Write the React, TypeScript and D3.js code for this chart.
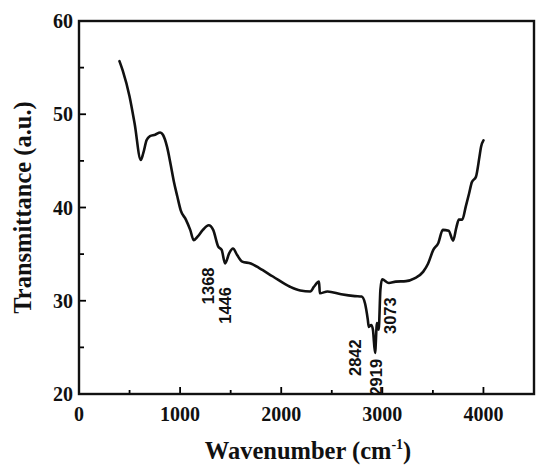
import React from "react";
import * as d3 from "d3";

// FTIR spectrum: wavenumber (cm^-1) vs transmittance (a.u.)
const wavenumbers = [
  400, 432, 500, 550, 611, 635, 668, 702, 753, 803, 830, 871, 905, 938, 972,
  1006, 1057, 1100, 1134, 1175, 1225, 1283, 1327, 1377, 1411, 1445, 1486, 1523,
  1564, 1614, 1699, 1783, 1918, 2087, 2188, 2289, 2323, 2374, 2382, 2458, 2593,
  2728, 2795, 2829, 2856, 2866, 2890, 2907, 2928, 2947, 2964, 2981, 2998, 3065,
  3133, 3234, 3318, 3403, 3453, 3504, 3554, 3598, 3656, 3700, 3733, 3757, 3791,
  3825, 3858, 3885, 3926, 3960, 3976, 4000,
];
const transmittance = [
  55.7, 54.7, 51.9, 49.0, 45.1, 45.8, 47.2, 47.65, 47.8, 48.05, 47.8, 46.5, 44.7,
  42.8, 41.2, 39.7, 38.7, 37.6, 36.5, 36.9, 37.6, 38.1, 37.6, 35.8, 35.45, 34.0,
  35.1, 35.6, 34.9, 34.2, 34.0, 33.5, 32.6, 31.5, 31.1, 31.0, 31.5, 32.05, 30.8,
  31.0, 30.7, 30.5, 30.45, 29.7, 28.0, 27.2, 27.4, 26.9, 24.4, 27.6, 26.9, 31.2,
  32.3, 31.9, 32.05, 32.1, 32.4, 33.1, 34.0, 35.45, 36.2, 37.6, 37.5, 36.45, 37.9,
  38.7, 38.7, 40.1, 41.5, 42.7, 43.3, 45.4, 46.5, 47.2,
];

// Peak annotations (label text, anchor wavenumber, anchor transmittance)
const peakLabels = ["1368", "1446", "2842", "2919", "3073"];
const peakX = [1276, 1444, 2730, 2938, 3071];
const peakY = [31.6, 29.5, 23.9, 21.8, 28.4];

const xTicks = [0, 1000, 2000, 3000, 4000];
const yTicks = [20, 30, 40, 50, 60];

const W = 536;
const H = 465;
const M = { left: 79, right: 534, top: 21, bottom: 394 };

export default function App() {
  const x = d3.scaleLinear().domain([0, 4500]).range([M.left, M.right]);
  const y = d3.scaleLinear().domain([20, 60]).range([M.bottom, M.top]);

  const pts = wavenumbers.map((w, i) => [w, transmittance[i]] as [number, number]);
  const line = d3
    .line<[number, number]>()
    .x((d) => x(d[0]))
    .y((d) => y(d[1]))
    .curve(d3.curveMonotoneX);

  const xMinor = d3.range(0, 4501, 500);
  const yMinor = d3.range(20, 61, 5);
  const serif = "'Liberation Serif', 'Times New Roman', serif";
  const sans = "'Liberation Sans', Arial, sans-serif";

  return (
    <svg
      width={W}
      height={H}
      style={{ position: "absolute", left: 0, top: 0, background: "#fff" }}
    >
      {/* ticks (inward) */}
      {xMinor.map((t) => {
        const major = t % 1000 === 0;
        return (
          <line
            key={"xt" + t}
            x1={x(t)}
            x2={x(t)}
            y1={M.bottom}
            y2={M.bottom - (major ? 7 : 4)}
            stroke="#000"
            strokeWidth={1.8}
          />
        );
      })}
      {yMinor.map((t) => {
        const major = t % 10 === 0;
        return (
          <line
            key={"yt" + t}
            x1={M.left}
            x2={M.left + (major ? 7 : 5)}
            y1={y(t)}
            y2={y(t)}
            stroke="#000"
            strokeWidth={1.8}
          />
        );
      })}

      {/* spectrum */}
      <path
        d={line(pts) || ""}
        fill="none"
        stroke="#111"
        strokeWidth={2.6}
        strokeLinejoin="round"
        strokeLinecap="round"
      />

      {/* frame */}
      <rect
        x={M.left}
        y={M.top}
        width={M.right - M.left}
        height={M.bottom - M.top}
        fill="none"
        stroke="#111"
        strokeWidth={2.4}
      />

      {/* tick labels */}
      {xTicks.map((t) => (
        <text
          key={"xl" + t}
          x={x(t)}
          y={421}
          textAnchor="middle"
          fontFamily={serif}
          fontWeight="bold"
          fontSize={20}
          fill="#111"
        >
          {t}
        </text>
      ))}
      {yTicks.map((t) => (
        <text
          key={"yl" + t}
          x={73}
          y={y(t)}
          dy="0.35em"
          textAnchor="end"
          fontFamily={serif}
          fontWeight="bold"
          fontSize={20}
          fill="#111"
        >
          {t}
        </text>
      ))}

      {/* axis titles */}
      <text
        transform={`translate(22,${(M.top + M.bottom) / 2}) rotate(-90)`}
        textAnchor="middle"
        dominantBaseline="central"
        fontFamily={serif}
        fontWeight="bold"
        fontSize={24.5}
        fill="#111"
      >
        Transmittance (a.u.)
      </text>
      <text
        x={308}
        y={459}
        textAnchor="middle"
        fontFamily={serif}
        fontWeight="bold"
        fontSize={24.5}
        fill="#111"
      >
        Wavenumber (cm
        <tspan dy={-10} fontSize={14}>
          -1
        </tspan>
        <tspan dy={10}>)</tspan>
      </text>

      {/* peak annotations */}
      {peakLabels.map((lab, i) => (
        <text
          key={"pk" + lab}
          transform={`translate(${x(peakX[i])},${y(peakY[i])}) rotate(-90)`}
          textAnchor="middle"
          dominantBaseline="central"
          fontFamily={sans}
          fontWeight="bold"
          fontSize={16.5}
          fill="#111"
        >
          {lab}
        </text>
      ))}
    </svg>
  );
}
